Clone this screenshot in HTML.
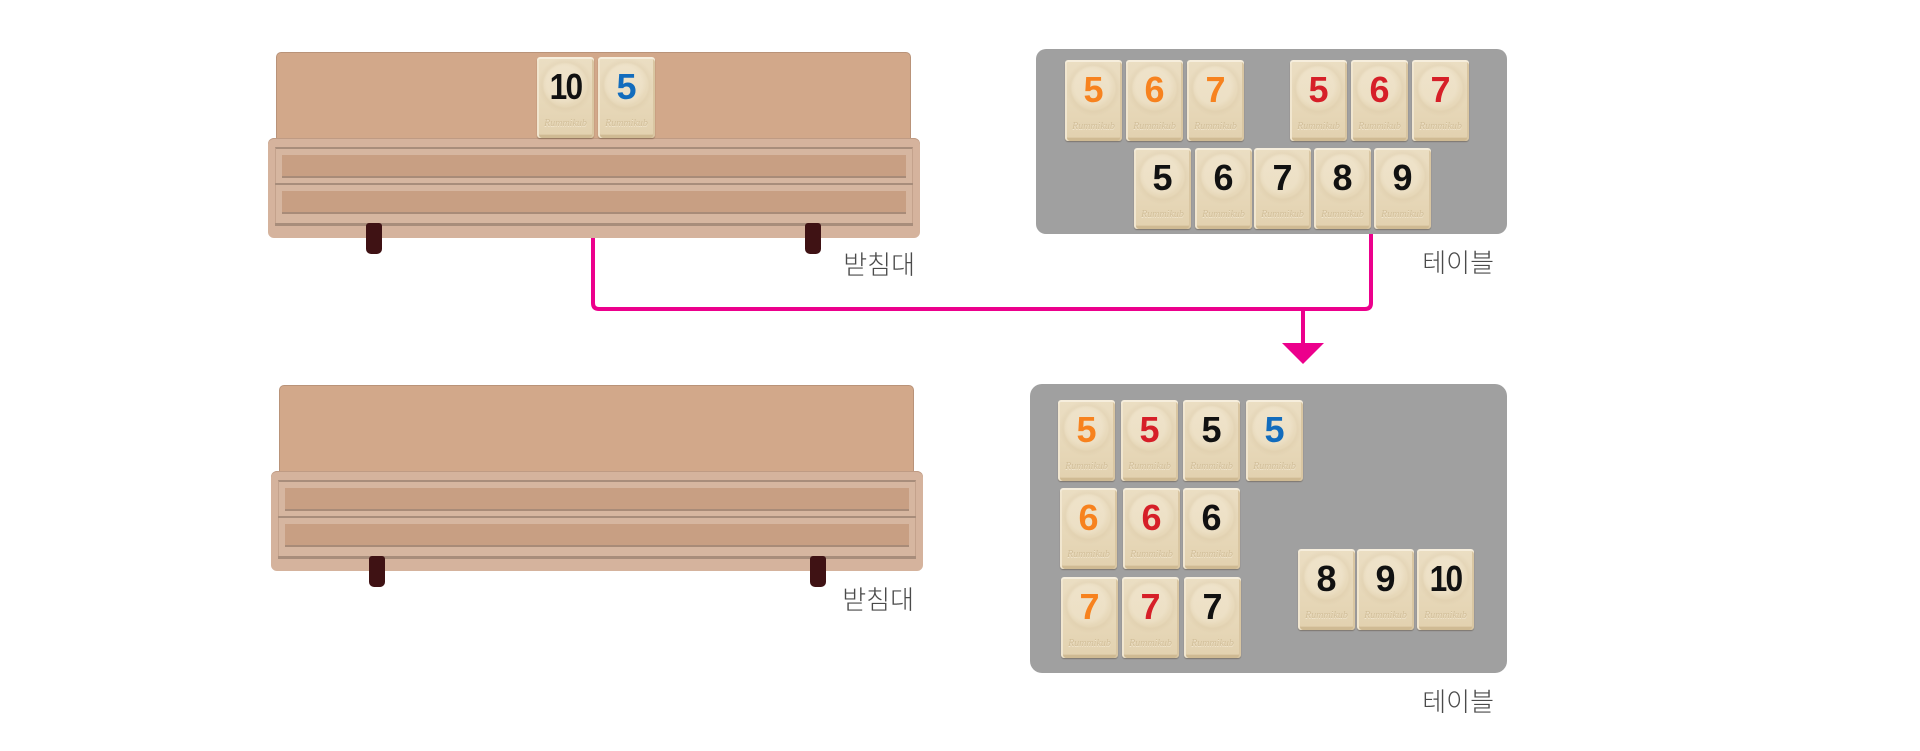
<!DOCTYPE html>
<html>
<head>
<meta charset="utf-8">
<style>
  html,body{margin:0;padding:0;background:#fff;}
  body{width:1920px;height:751px;position:relative;overflow:hidden;font-family:"Liberation Sans","Noto Sans CJK KR",sans-serif;}
  .abs{position:absolute;}
  .rack{position:absolute;width:652px;height:205px;}
  .rack .back{position:absolute;left:8px;top:0;width:635px;height:87px;background:#d2a88a;border:1px solid #b99379;border-bottom:none;border-radius:5px 5px 0 0;box-sizing:border-box;}
  .rack .front{position:absolute;left:0;top:86px;width:652px;height:100px;background:#d5b39d;border-radius:6px;box-shadow:inset 0 1px 0 #bf9b84;}
  .rack .frame{position:absolute;left:7px;top:95px;width:638px;height:78px;border-top:2px solid #a88d7b;border-left:1px solid #c4a28c;border-right:1px solid #c4a28c;box-sizing:border-box;background:#d6b6a0;}
  .rack .groove{position:absolute;left:14px;width:624px;background:#c89f83;border-bottom:2px solid #a88b78;box-sizing:border-box;}
  .rack .line{position:absolute;left:7px;width:638px;background:#a88d7b;}
  .rack .leg{position:absolute;width:16px;height:31px;background:#3f1214;border-radius:3px 3px 5px 5px;}
  .tile{position:absolute;width:57px;height:81px;border-radius:3px;box-sizing:border-box;
    background:
      radial-gradient(circle at 47% 33%, rgba(248,240,222,0.3) 0 17px, rgba(248,240,222,0) 22px),
      radial-gradient(circle at 50% 35%, rgba(0,0,0,0) 0 21px, rgba(185,160,118,0.10) 23px, rgba(0,0,0,0) 28px),
      linear-gradient(180deg,#ebdec3 0%,#e7d8b9 55%,#e2d1af 100%);
    box-shadow: inset 0 2px 0 #f6eedd, inset 2px 0 0 #f1e6cf, inset -2px 0 0 #d9c6a2, inset 0 -3px 0 #cfba93, inset 0 -4px 0 #dcc9a6, 0 1px 1px rgba(60,40,20,.35);}
  .tile .n{position:absolute;left:0;top:12px;width:57px;height:36px;line-height:36px;text-align:center;font-weight:bold;font-size:36px;font-family:"Liberation Sans",sans-serif;}
  .tile .n.ten{letter-spacing:-2px;transform:scaleX(0.88);}
  .tile .r{position:absolute;left:0;top:61px;width:57px;text-align:center;font-family:"Liberation Serif",serif;font-style:italic;font-size:10px;line-height:11px;color:#d2bf9a;text-shadow:0 1px 0 #f2e7d1;}
  .o{color:#f7821e;} .rd{color:#d61f28;} .b{color:#111;} .bl{color:#126cbd;}
  .table{position:absolute;background:#a0a0a0;}
  .lbl{position:absolute;font-family:"Liberation Sans","Noto Sans CJK KR",sans-serif;font-size:26px;line-height:26px;color:#4a4a4a;text-align:right;width:120px;font-weight:300;}
</style>
</head>
<body>

<!-- Top rack -->
<div class="rack" style="left:268px;top:52px;">
  <div class="back"></div>
  <div class="front"></div>
  <div class="frame"></div>
  <div class="groove" style="top:103px;height:23px;"></div>
  <div class="line" style="top:131px;height:2px;"></div>
  <div class="groove" style="top:139px;height:23px;"></div>
  <div class="line" style="top:171px;height:3px;"></div>
  <div class="leg" style="left:98px;top:171px;"></div>
  <div class="leg" style="left:537px;top:171px;"></div>
</div>
<div class="tile" style="left:537px;top:57px;"><div class="n b ten">10</div><div class="r">Rummikub</div></div>
<div class="tile" style="left:598px;top:57px;"><div class="n bl">5</div><div class="r">Rummikub</div></div>
<div class="lbl" style="left:795px;top:252px;">받침대</div>

<!-- Top table -->
<div class="table" style="left:1036px;top:49px;width:471px;height:185px;border-radius:10px;"></div>
<div class="tile" style="left:1065px;top:60px;"><div class="n o">5</div><div class="r">Rummikub</div></div>
<div class="tile" style="left:1126px;top:60px;"><div class="n o">6</div><div class="r">Rummikub</div></div>
<div class="tile" style="left:1187px;top:60px;"><div class="n o">7</div><div class="r">Rummikub</div></div>
<div class="tile" style="left:1290px;top:60px;"><div class="n rd">5</div><div class="r">Rummikub</div></div>
<div class="tile" style="left:1351px;top:60px;"><div class="n rd">6</div><div class="r">Rummikub</div></div>
<div class="tile" style="left:1412px;top:60px;"><div class="n rd">7</div><div class="r">Rummikub</div></div>
<div class="tile" style="left:1134px;top:148px;"><div class="n b">5</div><div class="r">Rummikub</div></div>
<div class="tile" style="left:1195px;top:148px;"><div class="n b">6</div><div class="r">Rummikub</div></div>
<div class="tile" style="left:1254px;top:148px;"><div class="n b">7</div><div class="r">Rummikub</div></div>
<div class="tile" style="left:1314px;top:148px;"><div class="n b">8</div><div class="r">Rummikub</div></div>
<div class="tile" style="left:1374px;top:148px;"><div class="n b">9</div><div class="r">Rummikub</div></div>
<div class="lbl" style="left:1374px;top:250px;">테이블</div>

<!-- Connector -->
<svg class="abs" style="left:0;top:0;" width="1920" height="751" viewBox="0 0 1920 751">
  <path d="M593 238 V303 Q593 309 599 309 H1365 Q1371 309 1371 303 V234" fill="none" stroke="#ec008c" stroke-width="4"/>
  <path d="M1303 309 V345" fill="none" stroke="#ec008c" stroke-width="4"/>
  <polygon points="1282,343 1324,343 1303,364" fill="#ec008c"/>
</svg>

<!-- Bottom rack -->
<div class="rack" style="left:271px;top:385px;">
  <div class="back"></div>
  <div class="front"></div>
  <div class="frame"></div>
  <div class="groove" style="top:103px;height:23px;"></div>
  <div class="line" style="top:131px;height:2px;"></div>
  <div class="groove" style="top:139px;height:23px;"></div>
  <div class="line" style="top:171px;height:3px;"></div>
  <div class="leg" style="left:98px;top:171px;"></div>
  <div class="leg" style="left:539px;top:171px;"></div>
</div>
<div class="lbl" style="left:794px;top:587px;">받침대</div>

<!-- Bottom table -->
<div class="table" style="left:1030px;top:384px;width:477px;height:289px;border-radius:12px;"></div>
<div class="tile" style="left:1058px;top:400px;"><div class="n o">5</div><div class="r">Rummikub</div></div>
<div class="tile" style="left:1121px;top:400px;"><div class="n rd">5</div><div class="r">Rummikub</div></div>
<div class="tile" style="left:1183px;top:400px;"><div class="n b">5</div><div class="r">Rummikub</div></div>
<div class="tile" style="left:1246px;top:400px;"><div class="n bl">5</div><div class="r">Rummikub</div></div>
<div class="tile" style="left:1060px;top:488px;"><div class="n o">6</div><div class="r">Rummikub</div></div>
<div class="tile" style="left:1123px;top:488px;"><div class="n rd">6</div><div class="r">Rummikub</div></div>
<div class="tile" style="left:1183px;top:488px;"><div class="n b">6</div><div class="r">Rummikub</div></div>
<div class="tile" style="left:1061px;top:577px;"><div class="n o">7</div><div class="r">Rummikub</div></div>
<div class="tile" style="left:1122px;top:577px;"><div class="n rd">7</div><div class="r">Rummikub</div></div>
<div class="tile" style="left:1184px;top:577px;"><div class="n b">7</div><div class="r">Rummikub</div></div>
<div class="tile" style="left:1298px;top:549px;"><div class="n b">8</div><div class="r">Rummikub</div></div>
<div class="tile" style="left:1357px;top:549px;"><div class="n b">9</div><div class="r">Rummikub</div></div>
<div class="tile" style="left:1417px;top:549px;"><div class="n b ten">10</div><div class="r">Rummikub</div></div>
<div class="lbl" style="left:1374px;top:689px;">테이블</div>

</body>
</html>
